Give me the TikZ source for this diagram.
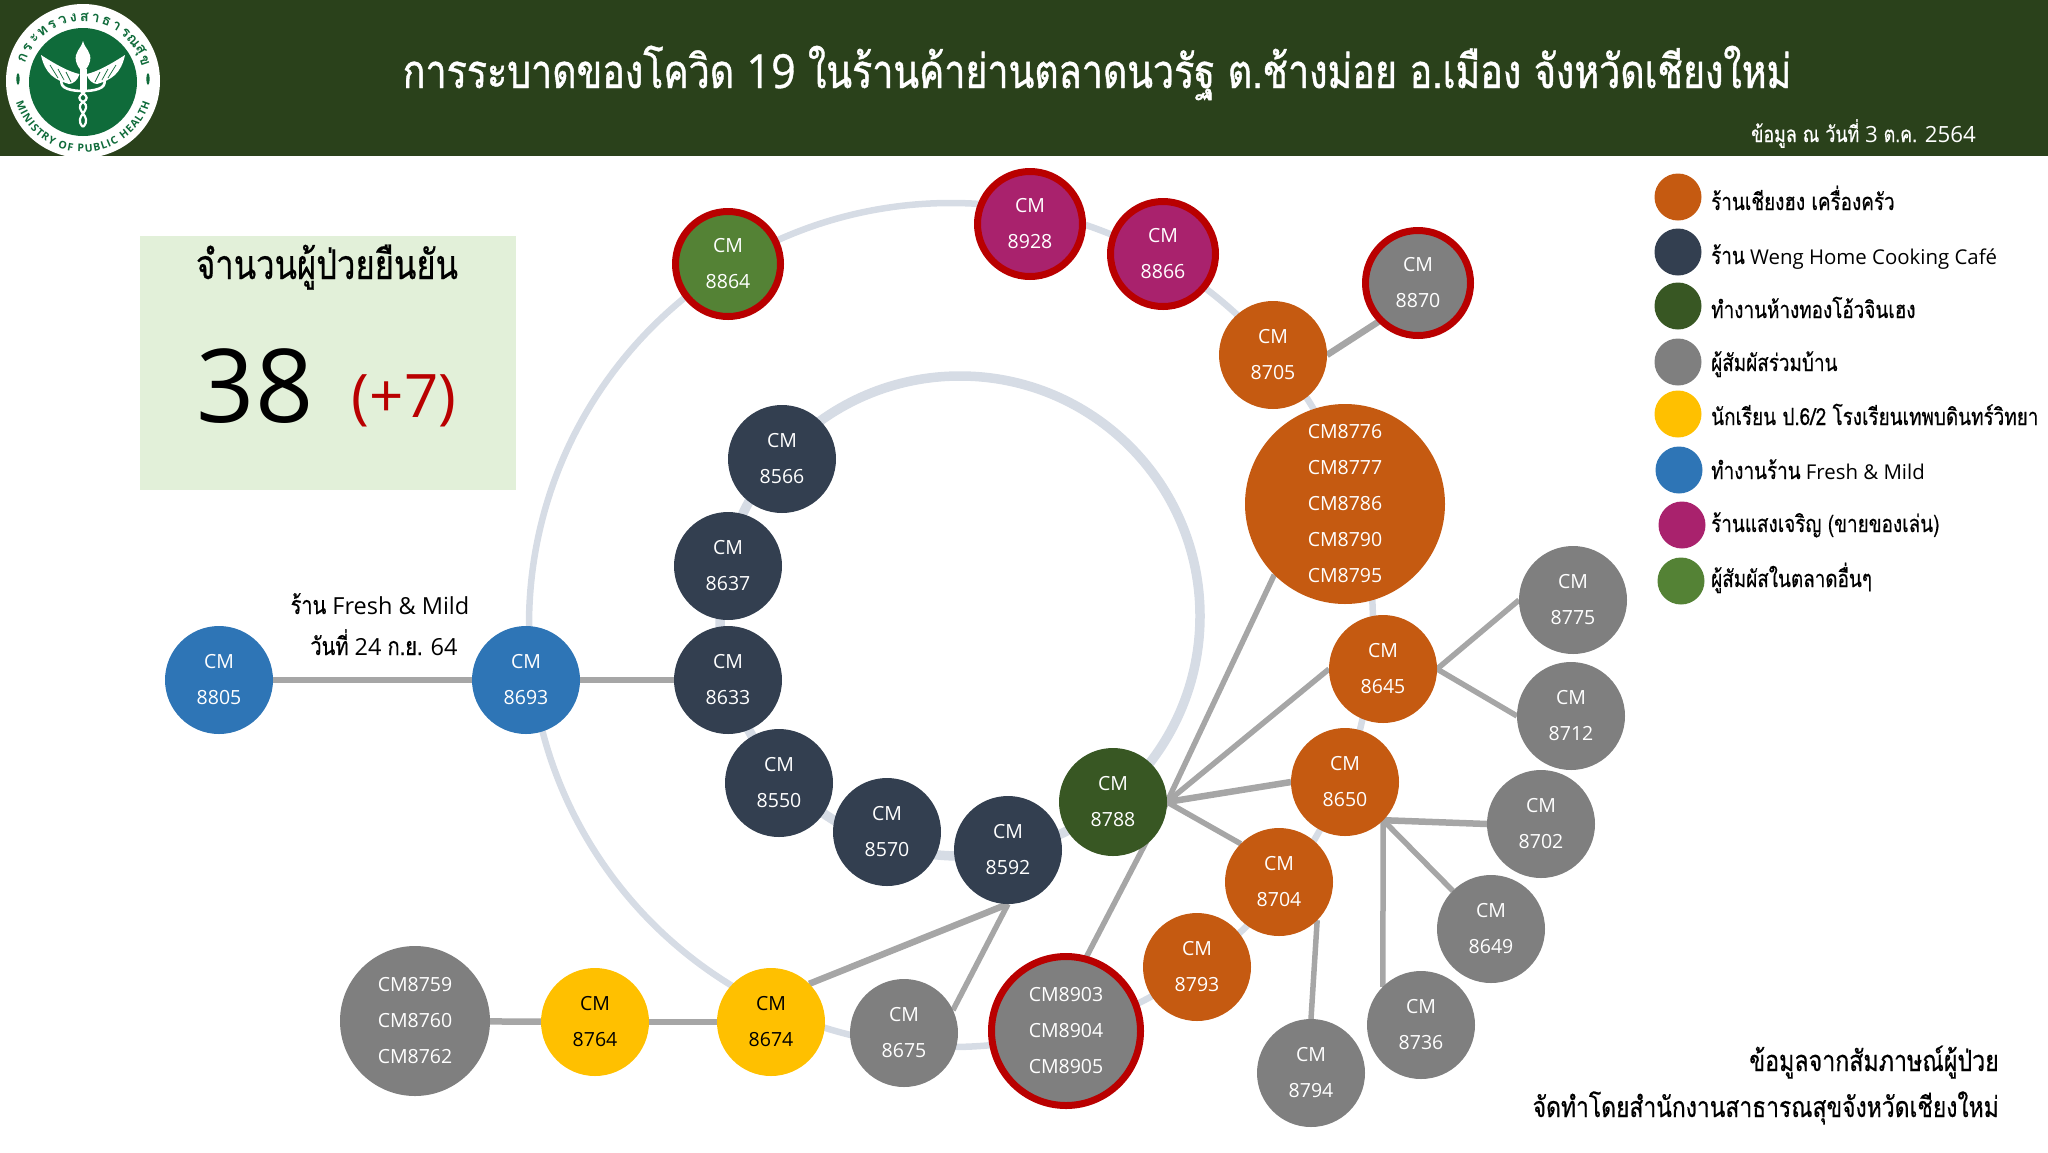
\documentclass[tikz,border=0pt]{standalone}
\usepackage{fontspec}
\usetikzlibrary{backgrounds,decorations.text}
\setmainfont{Open Sans}
\newfontfamily\thaifont[Script=Thai]{Loma}
\newfontfamily\thaimid[Script=Thai,FakeStretch=0.8,FakeBold=0.5]{Loma}
\newfontfamily\thaihead[Script=Thai,FakeStretch=0.8,FakeBold=0.9]{Loma}
\newfontfamily\sanshead[FakeBold=0.7,FakeStretch=0.92]{Open Sans}
\newcommand\T[1]{{\thaimid #1}}
\newcommand\fs[2]{\fontsize{#1}{#2}\selectfont}
\definecolor{banner}{HTML}{2A411B}
\definecolor{ringc}{HTML}{D6DCE5}
\definecolor{linec}{HTML}{A6A6A6}
\definecolor{redc}{HTML}{B90000}
\definecolor{orangec}{HTML}{C55A11}
\definecolor{navyc}{HTML}{333F50}
\definecolor{dgreenc}{HTML}{385723}
\definecolor{grayc}{HTML}{7F7F7F}
\definecolor{yellowc}{HTML}{FFC000}
\definecolor{bluec}{HTML}{2E75B6}
\definecolor{magc}{HTML}{A9226D}
\definecolor{lgreenc}{HTML}{548235}
\definecolor{boxc}{HTML}{E2F0D9}
\definecolor{logog}{HTML}{0F6B3A}
\tikzset{
 cmnode/.style={circle,inner sep=0pt,outer sep=0pt,minimum size=108pt,align=center,text=white,font=\fs{19.5}{36}},
 bignode/.style={cmnode,minimum size=150pt},
 hugenode/.style={cmnode,minimum size=200pt},
 redring/.style={cmnode,draw=redc,line width=7pt,minimum size=105pt},
 legdot/.style={circle,inner sep=0pt,minimum size=47pt},
 legtext/.style={anchor=base west,inner sep=0pt,font=\fs{20.4}{24}},
 linkline/.style={draw=linec,line width=6.5pt},
 thinlink/.style={draw=linec,line width=5.5pt},
 ringline/.style={draw=ringc},
 notetext/.style={inner sep=0pt,anchor=base},
 logotxt/.style={inner sep=0pt,text=logog},
 feather/.style={draw=logog,line width=0.7pt},
}
% Thai inside the legend is set larger than its Latin words
\newcommand\LT[1]{{\fontsize{23.6}{24}\thaimid #1}}
\begin{document}
\begin{tikzpicture}[x=1pt,y=-1pt]
\useasboundingbox (0,0) rectangle (2048,1152);
\fill[banner] (0,0) rectangle (2048,156);
% logo
\fill[white] (83,81) circle (77);
\fill[logog] (83,82) circle (54);
\begin{scope}[shift={(83,82)}]
 \fill[white] (0,-41) .. controls (-2,-33) and (-9,-30) .. (-7,-21) .. controls (-6,-16) and (-3,-13) .. (-3,-13) -- (3,-13) .. controls (3,-13) and (6,-16) .. (7,-21) .. controls (9,-30) and (2,-33) .. (0,-41) -- cycle;
 \fill[white] (-3.5,-13) rectangle (3.5,8);
 \fill[white] (-42,-27) .. controls (-38,-8) and (-28,-2) .. (-14,2) .. controls (-10,2) and (-5,-2) .. (-3.5,-8) .. controls (-14,-10) and (-28,-18) .. (-42,-27) -- cycle;
 \fill[white] (42,-27) .. controls (38,-8) and (28,-2) .. (14,2) .. controls (10,2) and (5,-2) .. (3.5,-8) .. controls (14,-10) and (28,-18) .. (42,-27) -- cycle;
 \draw[feather] (-33,-17) -- (-25,-4);
 \draw[feather] (-25,-13) -- (-19,-2);
 \draw[feather] (-17,-10) -- (-12,0);
 \draw[feather] (33,-17) -- (25,-4);
 \draw[feather] (25,-13) -- (19,-2);
 \draw[feather] (17,-10) -- (12,0);
 \draw[white,line width=2.6pt] (-21,-3) .. controls (-25,7) and (-10,9) .. (0,9) .. controls (10,9) and (25,7) .. (21,-3);
 \draw[white,line width=2.2pt] (0,45) .. controls (-11,34) and (11,28) .. (0,20) .. controls (-11,14) and (7,10) .. (0,8);
 \draw[white,line width=2.2pt] (0,45) .. controls (11,34) and (-11,28) .. (0,20) .. controls (11,14) and (-7,10) .. (0,8);
 \foreach \c [count=\i from 0] in {ก,ร,ะ,ท,ร,ว,ง,ส,า,ธ,า,ร,ณ,สุ,ข} {
  \pgfmathsetmacro\a{-158+\i*9.9}
  \node[logotxt,rotate=-\a-90,font=\thaifont\fs{14.5}{16}\bfseries] (logoT\i) at (\a:65) {\c};
 }
 \path[decorate,decoration={text along path,text align={fit to path},
   text={|\fs{10.5}{12}\bfseries\color{logog}|MINISTRY OF PUBLIC HEALTH}}]
   (-66.94,20.47) .. controls (-57.93,49.92) and (-30.8,70) .. (0,70) .. controls (30.8,70) and (57.93,49.92) .. (66.94,20.47);
 \fill[logog] (-65,-3) ellipse (1.6 and 6);
 \fill[logog] (65,-3) ellipse (1.6 and 6);
\end{scope}
% title
\node[notetext,text=white,font=\fs{47}{50}] (title) at (1097,88) {{\thaihead การระบาดของโควิด} {\sanshead 19} {\thaihead ในร้านค้าย่านตลาดนวรัฐ ต.ช้างม่อย อ.เมือง จังหวัดเชียงใหม่}};
\node[notetext,text=white,font=\fs{22.3}{24},anchor=base east] (date) at (1976,142) {\T{ข้อมูล ณ วันที่} 3 \T{ต.ค.} 2564};
% box
\fill[boxc] (140,236) rectangle (516,490);
\node[notetext,font=\fs{41}{44}] (boxhead) at (327,279) {\T{จำนวนผู้ป่วยยืนยัน}};
\node[inner sep=0pt,anchor=base,font=\fs{102}{110}] (num) at (255,422) {38};
\node[inner sep=0pt,anchor=base,text=redc,font=\fs{60}{62}] (plus) at (404,417) {(+7)};
% outer ring nodes
\node[redring,fill=lgreenc] (n8864) at (728,264) {CM\\8864};
\node[redring,fill=magc] (n8928) at (1030,224) {CM\\8928};
\node[redring,fill=magc] (n8866) at (1163,254) {CM\\8866};
\node[redring,fill=grayc] (n8870) at (1418,283) {CM\\8870};
\node[cmnode,fill=orangec] (n8705) at (1273,355) {CM\\8705};
\node[hugenode,fill=orangec] (big) at (1345,504) {CM8776\\CM8777\\CM8786\\CM8790\\CM8795};
\node[cmnode,fill=orangec] (n8645) at (1383,669) {CM\\8645};
\node[cmnode,fill=orangec] (n8650) at (1345,782) {CM\\8650};
\node[cmnode,fill=orangec] (n8704) at (1279,882) {CM\\8704};
\node[cmnode,fill=orangec] (n8793) at (1197,967) {CM\\8793};
\node[redring,fill=grayc,minimum size=149pt] (g8903) at (1066,1031) {CM8903\\CM8904\\CM8905};
\node[cmnode,fill=grayc] (n8675) at (904,1033) {CM\\8675};
\node[cmnode,fill=yellowc,text=black] (n8674) at (771,1022) {CM\\8674};
\node[cmnode,fill=yellowc,text=black] (n8764) at (595,1022) {CM\\8764};
\node[bignode,fill=grayc] (g8759) at (415,1021) {CM8759\\CM8760\\CM8762};
\node[cmnode,fill=bluec] (n8693) at (526,680) {CM\\8693};
\node[cmnode,fill=bluec] (n8805) at (219,680) {CM\\8805};
% inner ring nodes
\node[cmnode,fill=navyc] (n8566) at (782,459) {CM\\8566};
\node[cmnode,fill=navyc] (n8637) at (728,566) {CM\\8637};
\node[cmnode,fill=navyc] (n8633) at (728,680) {CM\\8633};
\node[cmnode,fill=navyc] (n8550) at (779,783) {CM\\8550};
\node[cmnode,fill=navyc] (n8570) at (887,832) {CM\\8570};
\node[cmnode,fill=navyc] (n8592) at (1008,850) {CM\\8592};
\node[cmnode,fill=dgreenc] (n8788) at (1113,802) {CM\\8788};
% contacts
\node[cmnode,fill=grayc] (n8775) at (1573,600) {CM\\8775};
\node[cmnode,fill=grayc] (n8712) at (1571,716) {CM\\8712};
\node[cmnode,fill=grayc] (n8702) at (1541,824) {CM\\8702};
\node[cmnode,fill=grayc] (n8649) at (1491,929) {CM\\8649};
\node[cmnode,fill=grayc] (n8736) at (1421,1025) {CM\\8736};
\node[cmnode,fill=grayc] (n8794) at (1311,1073) {CM\\8794};
% rings and connectors behind
\begin{scope}[on background layer]
 \draw[ringline,line width=6.5pt] (951,625) circle (422);
 \draw[ringline,line width=9.5pt] (960,616) circle (240);
 \draw[linkline] (n8805) -- (n8693);
 \draw[linkline] (n8693) -- (n8633);
 \draw[linkline] (g8759) -- (n8764);
 \draw[linkline] (n8764) -- (n8674);
 \draw[linkline] (n8705.east) -- (n8870.south west);
 \draw[linkline] (n8674.north east) -- (n8592.south);
 \draw[thinlink] (n8675.25) -- (n8592.south);
 \draw[thinlink] (n8788.east) -- (big.225);
 \draw[thinlink] (n8788.east) -- (n8645.west);
 \draw[linkline] (n8788.east) -- (n8650.west);
 \draw[thinlink] (n8788.east) -- (n8704.north west);
 \draw[thinlink] (n8788.east) -- (g8903.75);
 \draw[thinlink] (n8645.east) -- (n8775.west);
 \draw[thinlink] (n8645.east) -- (n8712.west);
 \draw[linkline] (n8650.south east) -- (n8702.west);
 \draw[thinlink] (n8650.south east) -- (n8649.north west);
 \draw[thinlink] (n8650.south east) -- (n8736.north west);
 \draw[thinlink] (n8704.south east) -- (n8794.north);
\end{scope}
% labels
\node[notetext,font=\fs{23.5}{26}] (fresh1) at (380,614) {{\fontsize{25}{26}\thaimid ร้าน} Fresh \& Mild};
\node[notetext,font=\fs{23.5}{26}] (fresh2) at (384,655) {{\fontsize{25}{26}\thaimid วันที่} 24 {\fontsize{25}{26}\thaimid ก.ย.} 64};
% legend
\node[legdot,fill=orangec] (l1) at (1678,197) {};
\node[legdot,fill=navyc] (l2) at (1678,252) {};
\node[legdot,fill=dgreenc] (l3) at (1678,306) {};
\node[legdot,fill=grayc] (l4) at (1678,362) {};
\node[legdot,fill=yellowc] (l5) at (1678,414) {};
\node[legdot,fill=bluec] (l6) at (1679,470) {};
\node[legdot,fill=magc] (l7) at (1682,525) {};
\node[legdot,fill=lgreenc] (l8) at (1681,581) {};
\node[legtext] (t1) at (1711,210) {\LT{ร้านเชียงฮง เครื่องครัว}};
\node[legtext] (t2) at (1711,264) {\LT{ร้าน} Weng Home Cooking Café};
\node[legtext] (t3) at (1711,318) {\LT{ทำงานห้างทองโอ้วจินเฮง}};
\node[legtext] (t4) at (1711,371) {\LT{ผู้สัมผัสร่วมบ้าน}};
\node[legtext] (t5) at (1711,425) {\LT{นักเรียน ป.6/2 โรงเรียนเทพบดินทร์วิทยา}};
\node[legtext] (t6) at (1711,479) {\LT{ทำงานร้าน} Fresh \& Mild};
\node[legtext] (t7) at (1711,532) {\LT{ร้านแสงเจริญ (ขายของเล่น)}};
\node[legtext] (t8) at (1711,587) {\LT{ผู้สัมผัสในตลาดอื่นๆ}};
\node[notetext,anchor=base east,font=\fs{29}{32}] (src1) at (1999,1071) {\T{ข้อมูลจากสัมภาษณ์ผู้ป่วย}};
\node[notetext,anchor=base east,font=\fs{28.6}{32}] (src2) at (1999,1117) {\T{จัดทำโดยสำนักงานสาธารณสุขจังหวัดเชียงใหม่}};
\end{tikzpicture}
\end{document}
